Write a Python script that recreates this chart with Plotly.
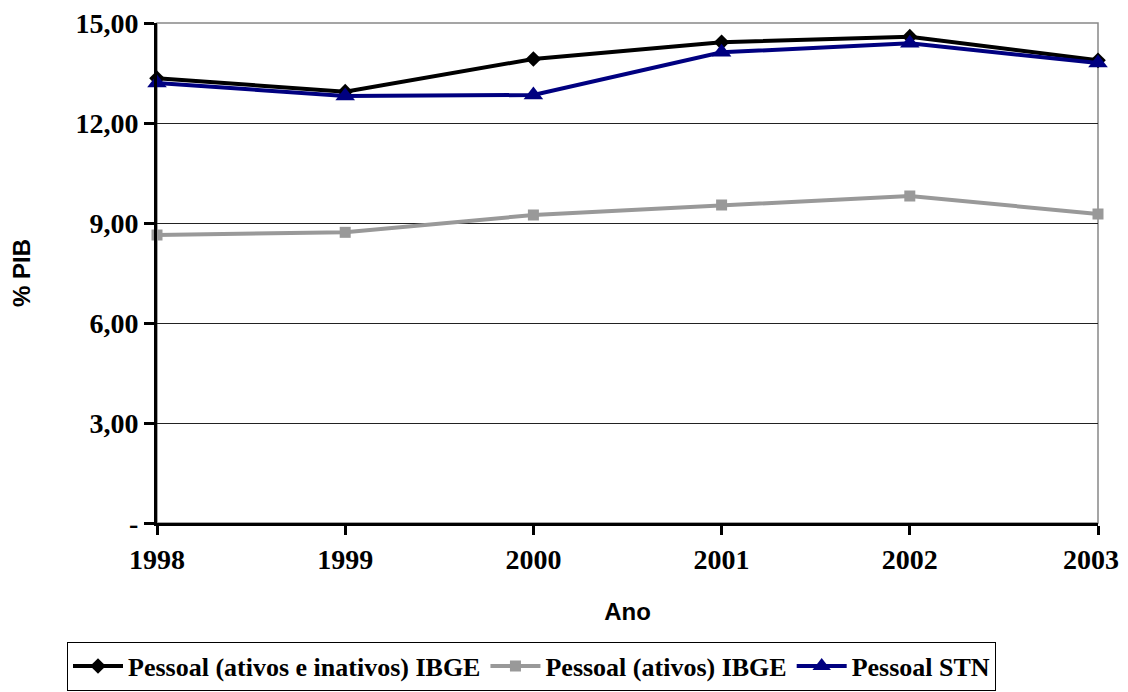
import plotly.graph_objects as go

years = [1998, 1999, 2000, 2001, 2002, 2003]
year_labels = ["1998", "1999", "2000", "2001", "2002", "2003\u00a0\u00a0"]
pessoal_total_ibge = [13.34, 12.94, 13.92, 14.42, 14.59, 13.88]
pessoal_ativos_ibge = [8.64, 8.72, 9.24, 9.54, 9.81, 9.27]
pessoal_stn = [13.20, 12.81, 12.84, 14.12, 14.39, 13.80]
y_tickvals = [0, 3, 6, 9, 12, 15]
y_ticktext = ["-", "3,00", "6,00", "9,00", "12,00", "15,00"]

serif = "Liberation Serif"
sans = "Liberation Sans"

# The page body has an 8px margin, so the figure is laid out 8px smaller.
W, H = 1120, 684

fig = go.Figure()
fig.add_trace(go.Scatter(
    x=years, y=pessoal_total_ibge, mode="lines+markers",
    name="<b>Pessoal (ativos e inativos) IBGE</b>",
    line=dict(color="black", width=4),
    marker=dict(symbol="diamond", size=12, color="black"),
    cliponaxis=False))
fig.add_trace(go.Scatter(
    x=years, y=pessoal_ativos_ibge, mode="lines+markers",
    name="<b>Pessoal (ativos) IBGE</b>",
    line=dict(color="#999999", width=4),
    marker=dict(symbol="square", size=11, color="#999999"),
    cliponaxis=False))
fig.add_trace(go.Scatter(
    x=years, y=pessoal_stn, mode="lines+markers",
    name="<b>Pessoal STN</b>",
    line=dict(color="#000080", width=4),
    marker=dict(symbol="triangle-up", size=17, color="#000080"),
    cliponaxis=False))

fig.add_shape(type="rect", xref="paper", yref="paper", x0=0, x1=1, y0=0, y1=1,
              line=dict(color="#888888", width=1.5), layer="between")

fig.update_layout(
    width=W, height=H,
    margin=dict(l=149, r=30, t=15, b=169, autoexpand=False),
    plot_bgcolor="white", paper_bgcolor="white",
    showlegend=True,
    legend=dict(orientation="h", x=(67 - 8) / W, y=0.002,
                xref="container", yref="container",
                xanchor="left", yanchor="bottom",
                font=dict(family=serif, size=26, color="black"),
                bordercolor="black", borderwidth=1, bgcolor="white",
                itemwidth=50, tracegroupgap=0),
    xaxis=dict(range=[1998, 2003], tickvals=years, ticktext=year_labels,
               showline=True, linecolor="black", linewidth=3, automargin=False,
               ticks="outside", ticklen=9, tickwidth=3, tickcolor="black",
               showgrid=False, zeroline=False, ticklabeloverflow="allow",
               tickfont=dict(family=serif, size=28, color="black", weight="bold"),
               title=dict(text="<b>Ano</b>", font=dict(family=sans, size=24, color="black"),
                          standoff=30)),
    yaxis=dict(range=[0, 15], tickvals=y_tickvals, ticktext=y_ticktext,
               showline=True, linecolor="black", linewidth=3, automargin=False,
               ticks="outside", ticklen=10, tickwidth=3, tickcolor="black",
               showgrid=True, gridcolor="#222222", gridwidth=1, zeroline=False,
               ticklabeloverflow="allow",
               tickfont=dict(family=serif, size=28, color="black", weight="bold"),
               title=dict(text="<b>% PIB</b>", font=dict(family=sans, size=24, color="black"),
                          standoff=44)),
)

fig.write_html("out.html")
